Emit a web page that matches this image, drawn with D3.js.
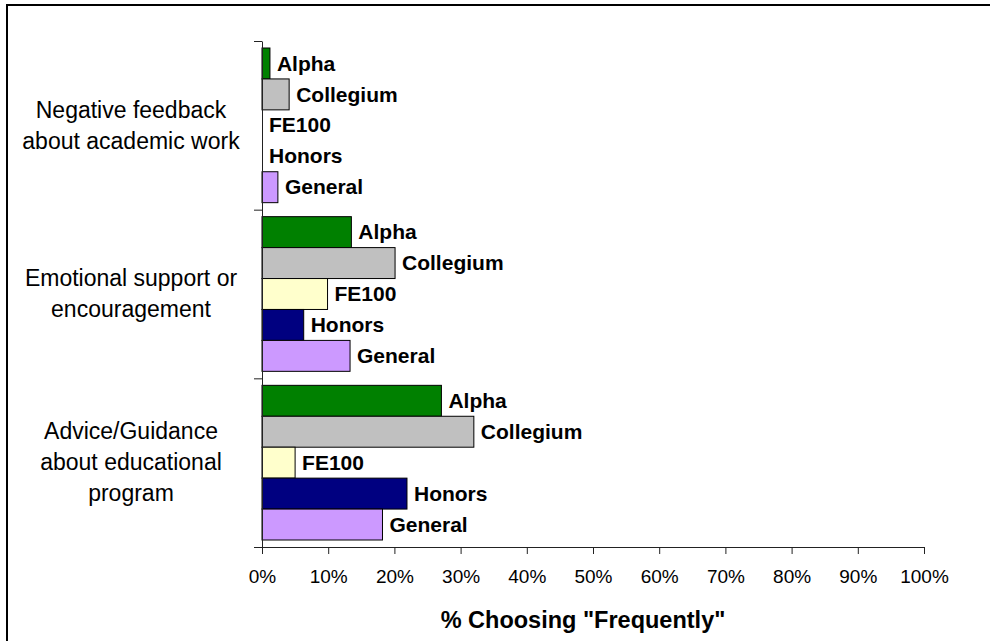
<!DOCTYPE html>
<html>
<head>
<meta charset="utf-8">
<script src="https://cdn.jsdelivr.net/npm/d3@7"></script>
<style>
  body { margin: 0; background: #fff; }
  svg { display: block; font-family: Arial, 'Liberation Sans', sans-serif; }
</style>
</head>
<body>
<svg id="chart"></svg>
<script>
// data
const categories = ['Negative feedback about academic work', 'Emotional support or encouragement', 'Advice/Guidance about educational program'];
const categoryLines = [
  ['Negative feedback', 'about academic work'],
  ['Emotional support or', 'encouragement'],
  ['Advice/Guidance', 'about educational', 'program']
];
const series = ['Alpha', 'Collegium', 'FE100', 'Honors', 'General'];
const seriesColors = ['#008000', '#c0c0c0', '#ffffcc', '#000080', '#cc99ff'];
const alphaVals = [0.012, 0.135, 0.271];
const collegiumVals = [0.041, 0.201, 0.320];
const fe100Vals = [0, 0.099, 0.050];
const honorsVals = [0, 0.063, 0.219];
const generalVals = [0.024, 0.133, 0.182];
const xTicks = [0, 0.1, 0.2, 0.3, 0.4, 0.5, 0.6, 0.7, 0.8, 0.9, 1.0];
const xTitle = '% Choosing "Frequently"';

const width = 990, height = 641;
const svg = d3.select('#chart').attr('width', width).attr('height', height);

// chart frame (right/bottom run off the page like the reference)
svg.append('rect')
  .attr('x', 7).attr('y', 5)
  .attr('width', 1000).attr('height', 1000)
  .style('fill', 'none').style('stroke', '#000').style('stroke-width', 2);

const plot = { left: 262, right: 924, top: 41, bottom: 547 };

const x = d3.scaleLinear().domain([0, 1]).range([plot.left, plot.right]);
const y = d3.scaleBand().domain(categories).range([plot.top, plot.bottom])
  .paddingInner(0.083).paddingOuter(0.0415);
const ySub = d3.scaleBand().domain(series).range([0, y.bandwidth()]);
const yEdge = d3.scaleLinear().domain([0, categories.length]).range([plot.top, plot.bottom]);

const valuesBySeries = [alphaVals, collegiumVals, fe100Vals, honorsVals, generalVals];
const rows = [];
categories.forEach((c, ci) => {
  series.forEach((s, si) => {
    rows.push({ cat: c, ci: ci, name: s, color: seriesColors[si], v: valuesBySeries[si][ci] });
  });
});

// bars
svg.append('g')
  .selectAll('rect')
  .data(rows)
  .enter()
  .append('rect')
  .attr('x', x(0))
  .attr('y', (d) => y(d.cat) + ySub(d.name))
  .attr('width', (d) => x(d.v) - x(0))
  .attr('height', ySub.bandwidth())
  .style('fill', (d) => d.color)
  .style('stroke', '#000')
  .style('stroke-width', 1);

// bar labels
svg.append('g')
  .selectAll('text')
  .data(rows)
  .enter()
  .append('text')
  .attr('x', (d) => x(d.v) + 7)
  .attr('y', (d) => y(d.cat) + ySub(d.name) + ySub.bandwidth() / 2)
  .attr('dy', '0.34em')
  .text((d) => d.name)
  .style('font-size', '21px')
  .style('font-weight', 'bold')
  .style('fill', '#000');

// x axis
const xAxis = svg.append('g')
  .attr('transform', `translate(0, ${plot.bottom})`)
  .call(d3.axisBottom(x).tickValues(xTicks).tickFormat(d3.format('.0%')).tickSize(7).tickPadding(16).tickSizeOuter(0));
xAxis.selectAll('text').style('font-size', '19px').style('font-family', 'Arial, "Liberation Sans", sans-serif').style('fill', '#000');
xAxis.selectAll('line').style('stroke', '#222');
xAxis.select('.domain').style('stroke', '#222');

// y axis with ticks at category boundaries
const yAxis = svg.append('g')
  .attr('transform', `translate(${plot.left}, 0)`)
  .call(d3.axisLeft(yEdge).tickValues(d3.range(categories.length + 1)).tickFormat('').tickSize(8).tickSizeOuter(0));
yAxis.selectAll('line').style('stroke', '#222');
yAxis.select('.domain').style('stroke', '#222');

// category labels
const lineH = 31;
const catLabels = svg.append('g')
  .selectAll('text')
  .data(categoryLines)
  .enter()
  .append('text')
  .attr('x', 131)
  .attr('y', (d, i) => yEdge(i + 0.5) - (d.length - 1) * lineH / 2 + 7.8)
  .attr('text-anchor', 'middle')
  .style('font-size', '23px')
  .style('fill', '#000');
catLabels.selectAll('tspan')
  .data((d) => d)
  .enter()
  .append('tspan')
  .attr('x', 131)
  .attr('dy', (d, i) => (i === 0 ? 0 : lineH))
  .text((d) => d);

// axis title
svg.append('text')
  .attr('x', 583)
  .attr('y', 628)
  .attr('text-anchor', 'middle')
  .text(xTitle)
  .style('font-size', '23.5px')
  .style('font-weight', 'bold')
  .style('fill', '#000');
</script>
</body>
</html>
